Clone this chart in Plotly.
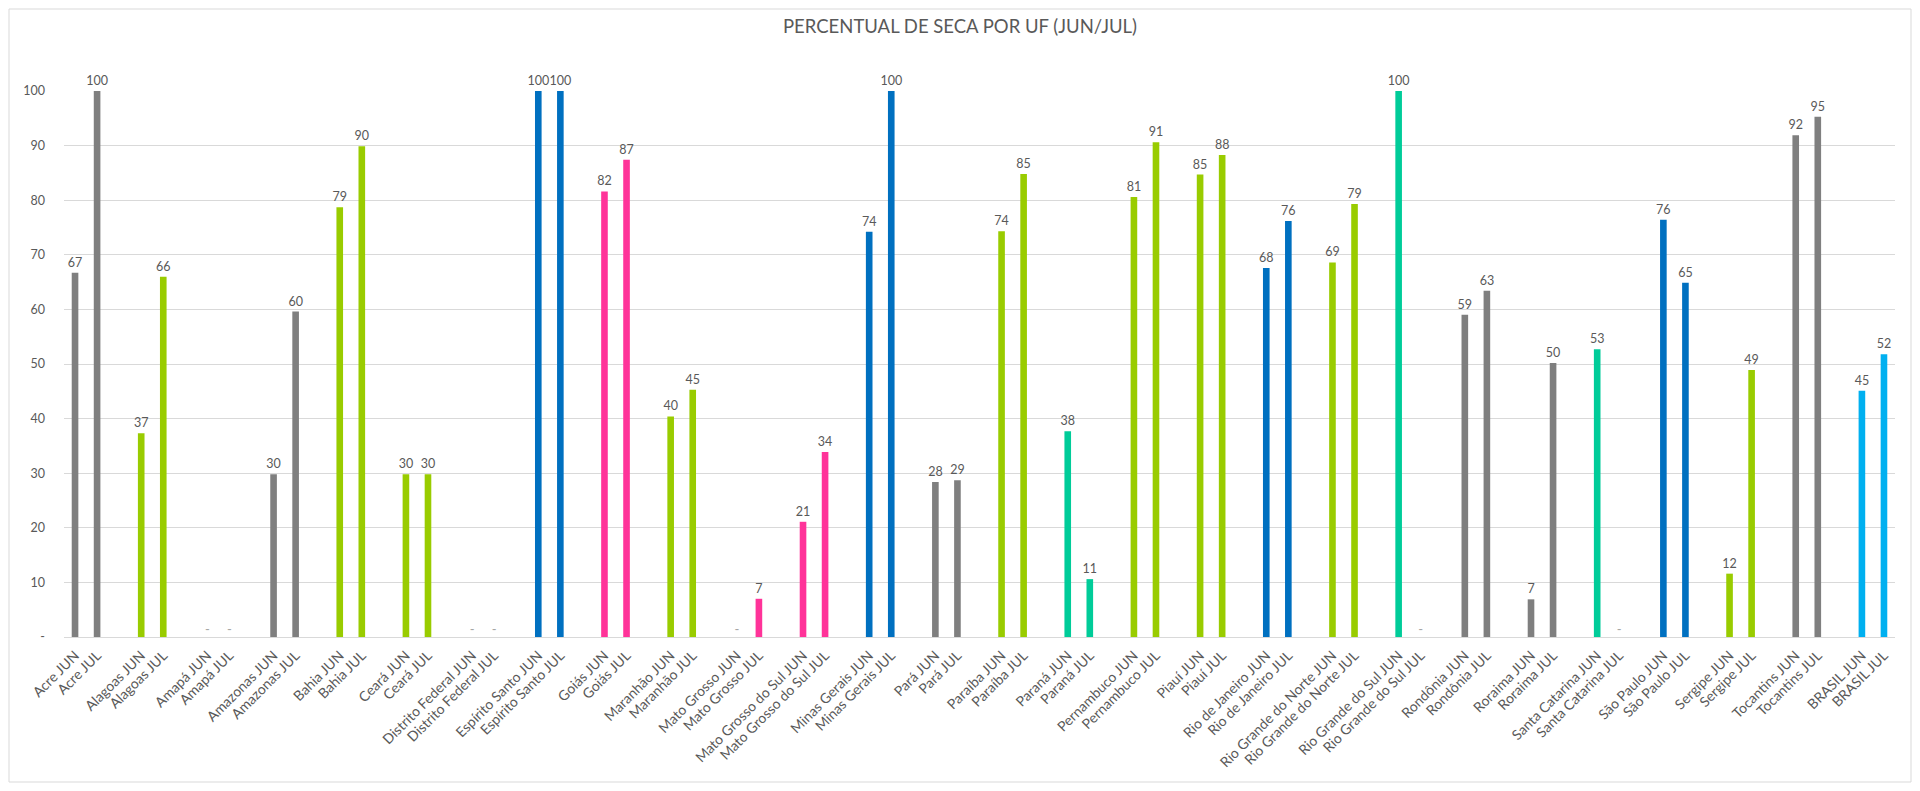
import plotly.graph_objects as go

ufs = ["Acre", "Alagoas", "Amapá", "Amazonas", "Bahia", "Ceará", "Distrito Federal",
       "Espírito Santo", "Goiás", "Maranhão", "Mato Grosso", "Mato Grosso do Sul",
       "Minas Gerais", "Pará", "Paraíba", "Paraná", "Pernambuco", "Piauí",
       "Rio de Janeiro", "Rio Grande do Norte", "Rio Grande do Sul", "Rondônia",
       "Roraima", "Santa Catarina", "São Paulo", "Sergipe", "Tocantins", "BRASIL"]

jun = [66.7, 37.3, 0, 29.8, 78.7, 29.8, 0, 100, 81.6, 40.4, 0, 21.1, 74.2, 28.4,
       74.3, 37.7, 80.6, 84.7, 67.6, 68.6, 100, 59.0, 6.9, 52.7, 76.4, 11.6, 91.9, 45.1]
jul = [100, 66.0, 0, 59.6, 89.9, 29.8, 0, 100, 87.4, 45.3, 7.0, 33.9, 100, 28.7,
       84.8, 10.6, 90.6, 88.3, 76.2, 79.3, 0, 63.4, 50.2, 0, 64.9, 48.9, 95.3, 51.8]

# cores por regiao
regiao = ["N", "NE", "N", "N", "NE", "NE", "CO", "SE", "CO", "NE", "CO", "CO", "SE", "N",
          "NE", "S", "NE", "NE", "SE", "NE", "S", "N", "N", "S", "SE", "NE", "N", "BR"]
cores = {"N": "#7F7F7F", "NE": "#99CC00", "SE": "#0070C0", "CO": "#FF3399",
         "S": "#00CC99", "BR": "#00B0F0"}

meses = ["JUN", "JUL"]

xs, ys, labels, cols, txt = [], [], [], [], []
for i, uf in enumerate(ufs):
    for j, vals in enumerate([jun, jul]):
        xs.append(3 * i + j)
        ys.append(vals[i])
        labels.append(f"{uf} {meses[j]}")
        cols.append(cores[regiao[i]])
        txt.append(f"{vals[i]:.0f}" if vals[i] > 0 else "")

# barras zeradas aparecem com "-"
zx = [x for x, y in zip(xs, ys) if y == 0]
zy = [0 for x in zx]

FONT = "Lato, Carlito, Calibri, sans-serif"
GRAY = "#595959"

fig = go.Figure()
fig.add_trace(go.Bar(
    x=xs, y=ys, marker=dict(color=cols, line=dict(width=0)),
    text=txt, textposition="outside", cliponaxis=False, constraintext="none",
    textfont=dict(family=FONT, size=12.5, color=GRAY), width=0.3,
    hoverinfo="x+y",
))
fig.add_trace(go.Scatter(
    x=zx, y=zy, mode="text", text=["-"] * len(zx), textposition="top center",
    textfont=dict(family=FONT, size=13, color="#A6A6A6"), cliponaxis=False,
    hoverinfo="skip",
))

# a pagina tem margem de 8px, entao a figura fica 16px menor
W, H = 1904, 775
ml, mr, mt, mb = 56, 17, 83, 146
pw, ph = W - ml - mr, H - mt - mb

fig.update_layout(
    width=W, height=H,
    margin=dict(l=ml, r=mr, t=mt, b=mb),
    paper_bgcolor="white", plot_bgcolor="white",
    showlegend=False,
    title=dict(text="PERCENTUAL DE SECA POR UF (JUN/JUL)", x=0.5, xanchor="center",
               y=1 - 19 / H, yanchor="middle",
               font=dict(family=FONT, size=18.5, color=GRAY)),
    font=dict(family=FONT, color=GRAY),
    shapes=[dict(type="rect", xref="paper", yref="paper",
                 x0=-(ml - 1) / pw, x1=(W - 1 - ml) / pw,
                 y0=-(mb - 1) / ph, y1=1 + (mt - 1) / ph,
                 line=dict(color="#D9D9D9", width=1))],
)
fig.update_xaxes(
    range=[-0.5, 3 * len(ufs) - 1.5], tickmode="array", tickvals=xs, ticktext=labels,
    tickangle=-45, tickfont=dict(family=FONT, size=14, color=GRAY),
    showgrid=False, zeroline=False, showline=True, linecolor="#D9D9D9", ticks="",
    ticklabelstandoff=4,
)
fig.update_yaxes(
    range=[0, 100], tickmode="array", tickvals=list(range(0, 101, 10)),
    ticktext=["-"] + [str(v) for v in range(10, 101, 10)],
    tickfont=dict(family=FONT, size=12.5, color=GRAY),
    showgrid=True, gridcolor="#D9D9D9", gridwidth=1, zeroline=False, showline=False,
    ticks="", ticklabelstandoff=18,
)

fig.write_html("out.html")
